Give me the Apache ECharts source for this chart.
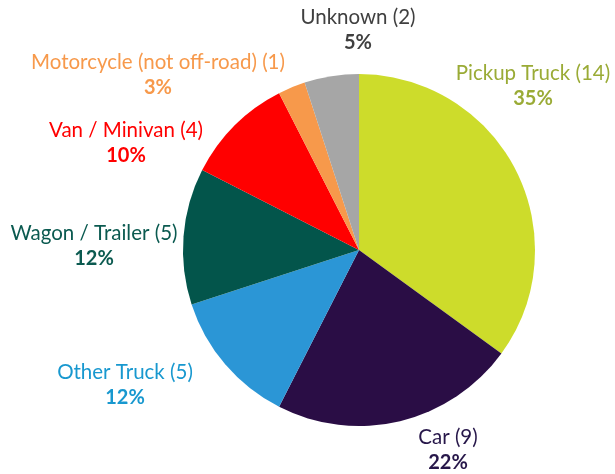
<!DOCTYPE html>
<html>
<head>
<meta charset="utf-8">
<script src="https://cdn.jsdelivr.net/npm/echarts@6/dist/echarts.min.js"></script>
<style>
  html, body { margin: 0; padding: 0; background: #fff; }
  #chart { width: 615px; height: 474px; }
</style>
</head>
<body>
<div id="chart"></div>
<script>
// 分类与数值
const categories = ['Pickup Truck', 'Car', 'Other Truck', 'Wagon / Trailer', 'Van / Minivan', 'Motorcycle (not off-road)', 'Unknown']
const counts = [14, 9, 5, 5, 4, 1, 2]
const percents = ['35%', '22%', '12%', '12%', '10%', '3%', '5%']

// 扇区颜色 / 标签颜色
const sliceColors = ['#cddc2b', '#2a0d45', '#2b96d6', '#03554b', '#ff0000', '#f7994b', '#a6a6a6']
const labelColors = ['#9aab36', '#27174a', '#1898cf', '#0b5a50', '#ff0000', '#f7994b', '#404040']
// 标签中心位置（像素）
const labelCenters = [[533, 86], [448, 450], [125, 385], [94, 246], [126, 143], [158, 75], [358, 30]]

const chart = echarts.init(document.getElementById('chart'))

const seriesData = categories.map((name, i) => {
  return {
    name: name,
    value: counts[i],
    itemStyle: { color: sliceColors[i] },
    label: {
      formatter: '{n|' + name + ' (' + counts[i] + ')}\n{p|' + percents[i] + '}',
      rich: {
        n: { color: labelColors[i], fontSize: 20.5, fontFamily: 'Lato', align: 'center', lineHeight: 25 },
        p: { color: labelColors[i], fontSize: 20, fontFamily: 'Lato', fontWeight: 'bold', align: 'center', lineHeight: 25 }
      }
    }
  }
})

chart.setOption({
  animation: false,
  series: [
    {
      type: 'pie',
      center: [359, 250],
      radius: [0, 176],
      startAngle: 90,
      clockwise: true,
      avoidLabelOverlap: false,
      label: { show: true, position: 'outside' },
      labelLine: { show: false },
      labelLayout: (params) => {
        const c = labelCenters[params.dataIndex]
        return { x: c[0], y: c[1], align: 'center', verticalAlign: 'middle' }
      },
      itemStyle: { borderWidth: 0 },
      emphasis: { disabled: true },
      data: seriesData
    }
  ]
})
</script>
</body>
</html>
